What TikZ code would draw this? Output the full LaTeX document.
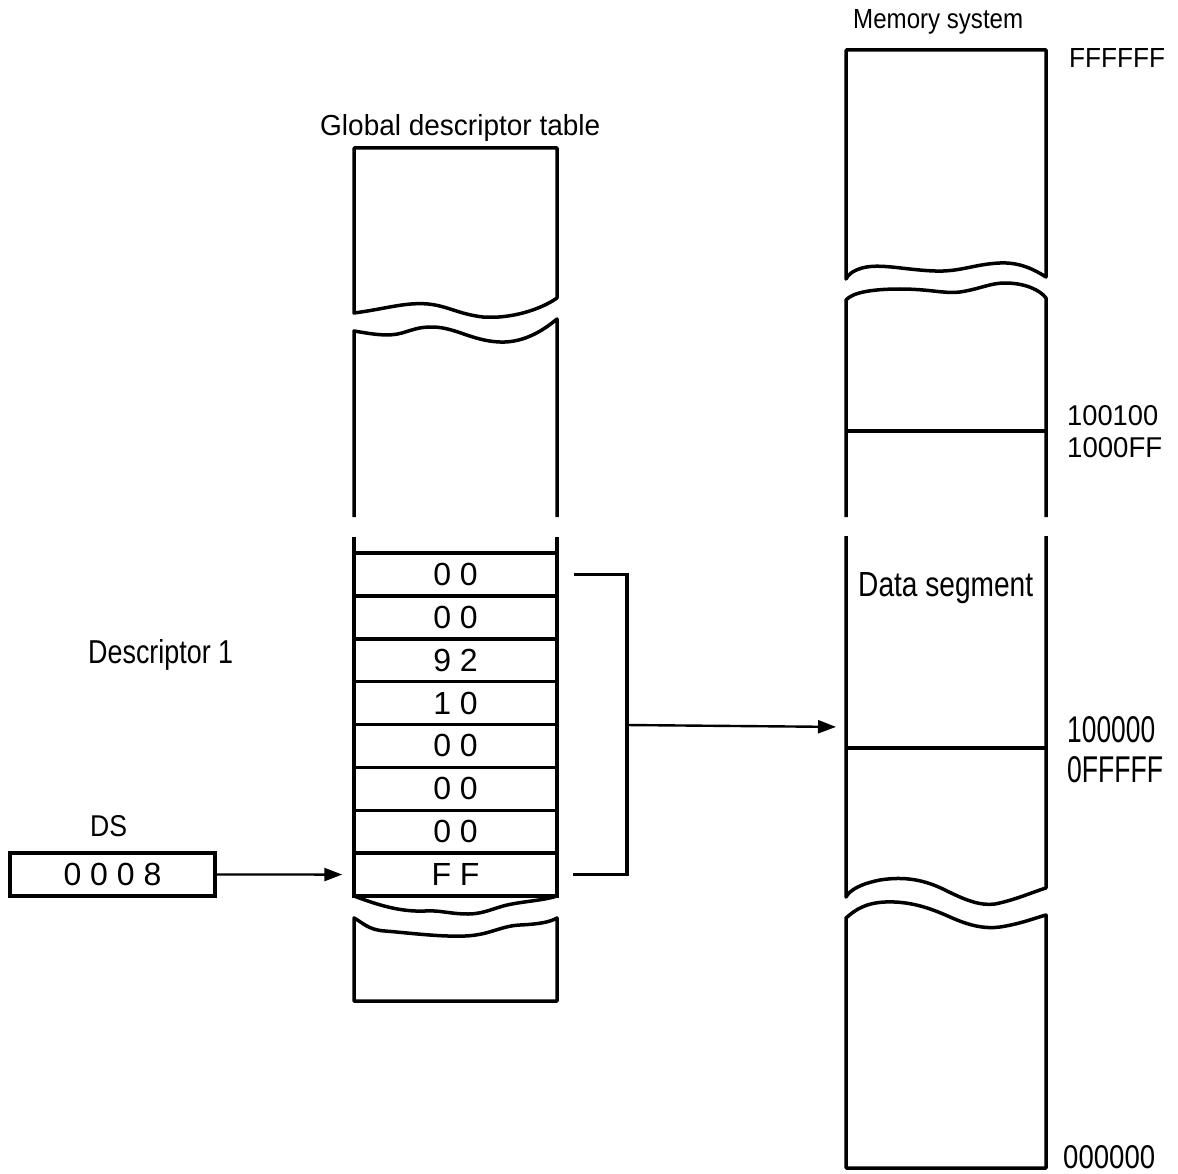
\documentclass[tikz,border=0pt]{standalone}
\usepackage{fontspec}
\setmainfont{Liberation Sans}
\usetikzlibrary{arrows.meta,calc}
\newcommand\fitlbl[3]{\resizebox{#1pt}{#2pt}{#3}}
\begin{document}
\begin{tikzpicture}[x=1pt,y=-1pt,
  wall/.style={line width=3.5pt, line join=round},
  rowbox/.style={draw, line width=3.5pt, minimum width=203pt, minimum height=42.875pt, inner sep=0pt, font=\fontsize{32}{32}\selectfont},
  lbl/.style={inner sep=0pt, anchor=base west},
  conn/.style={line width=2.4pt, -{Triangle[length=18pt,width=13pt]}, shorten >=10pt},
  brk/.style={line width=3.5pt}
]
\useasboundingbox (0,0) rectangle (1178,1174);

% ---------- Global descriptor table ----------
\draw[wall] (557,298) -- (557,148) -- (354,148) -- (354,313)
  .. controls (385,309) and (405,302) .. (428,304)
  .. controls (448,306) and (458,314) .. (483,317)
  .. controls (510,319) and (540,310) .. (557,298) -- cycle;
\draw[wall] (354,517) -- (354,331)
  .. controls (372,334) and (388,337) .. (402,333)
  .. controls (415,329) and (420,327) .. (432,327)
  .. controls (455,327) and (472,341) .. (500,342)
  .. controls (525,343) and (545,329) .. (557,319) -- (557,517);
\draw[wall] (354,537) -- (354,553);
\draw[wall] (557,537) -- (557,553);

\node[rowbox] (r1) at (455.5,574.44) {0 0};
\node[rowbox] (r2) at (455.5,617.31) {0 0};
\node[rowbox] (r3) at (455.5,660.19) {9 2};
\node[rowbox] (r4) at (455.5,703.06) {1 0};
\node[rowbox] (r5) at (455.5,745.94) {0 0};
\node[rowbox] (r6) at (455.5,788.81) {0 0};
\node[rowbox] (r7) at (455.5,831.69) {0 0};
\node[rowbox] (r8) at (455.5,874.56) {F F};

\draw[wall] (354,896) -- (557,896)
  .. controls (545,900) and (528,901) .. (512,904)
  .. controls (495,907) and (485,914) .. (468,914)
  .. controls (450,914) and (440,910) .. (425,911)
  .. controls (400,912) and (378,905) .. (354,896) -- cycle;
\draw[wall] (354,1001) -- (354,918)
  .. controls (362,922) and (368,930) .. (385,931)
  .. controls (410,933) and (440,937) .. (465,936)
  .. controls (490,935) and (500,926) .. (520,925)
  .. controls (540,924) and (550,922) .. (557,918) -- (557,1001) -- cycle;

% ---------- Memory system ----------
\draw[wall] (846,279) -- (846,50) -- (1046,50) -- (1046,277)
  .. controls (1035,270) and (1020,262) .. (1000,263)
  .. controls (975,264) and (960,272) .. (935,271)
  .. controls (905,270) and (880,263) .. (862,268)
  .. controls (852,271) and (848,275) .. (846,279) -- cycle;
\draw[wall] (846,517) -- (846,300)
  .. controls (852,293) and (870,289) .. (900,289)
  .. controls (930,289) and (945,294) .. (960,292)
  .. controls (980,289) and (990,283) .. (1005,283)
  .. controls (1025,283) and (1040,290) .. (1046,298) -- (1046,517);
\draw[wall] (846,431) -- (1046,431);
\draw[wall] (846,536) -- (846,897)
  .. controls (850,890) and (860,884) .. (880,880)
  .. controls (905,876) and (925,880) .. (945,890)
  .. controls (965,900) and (980,906) .. (995,904)
  .. controls (1015,900) and (1030,893) .. (1046,888) -- (1046,536);
\draw[wall] (846,748) -- (1046,748);
\draw[wall] (846,1168) -- (846,918)
  .. controls (855,910) and (865,903) .. (885,902)
  .. controls (910,901) and (930,908) .. (950,917)
  .. controls (970,926) and (985,929) .. (1000,927)
  .. controls (1020,924) and (1035,918) .. (1046,915) -- (1046,1168) -- cycle;
\coordinate (memL) at (846,727);

% ---------- DS register ----------
\node[draw, line width=3.5pt, minimum width=205pt, minimum height=43pt, inner sep=0pt,
  font=\fontsize{32}{32}\selectfont] (ds) at (112.5,874.5) {0 0 0 8};

% ---------- connectors ----------
\draw[conn] (ds.east) -- (r8.west);
\draw[brk] ($(r1.east)+(15,0)$) -- ++(53,0) coordinate (btop) |- ($(r8.east)+(14,0)$);
\coordinate (bm) at (626,725);
\draw[conn] (bm) -- (memL);

% ---------- labels ----------
\node[lbl] (tmem) at (853,29) {\fitlbl{170}{19}{Memory system}};
\node[lbl] (aF) at (1069,68) {\fitlbl{96}{19}{FFFFFF}};
\node[lbl] (tgdt) at (320,136) {\fitlbl{280}{21}{Global descriptor table}};
\node[lbl] (a1) at (1067,425) {\fitlbl{91}{20}{100100}};
\node[lbl] (a2) at (1067,457) {\fitlbl{95}{20}{1000FF}};
\node[lbl] (tds) at (858,596) {\fitlbl{175}{24}{Data segment}};
\node[lbl] (a3) at (1067,742) {\fitlbl{88}{26}{100000}};
\node[lbl] (a4) at (1067,782) {\fitlbl{96}{26}{0FFFFF}};
\node[lbl] (a5) at (1063,1168) {\fitlbl{92}{23}{000000}};
\node[lbl] (tdesc) at (88,663) {\fitlbl{145}{24}{Descriptor 1}};
\node[lbl] (tdsr) at (90,836) {\fitlbl{37}{21}{DS}};
\end{tikzpicture}
\end{document}
